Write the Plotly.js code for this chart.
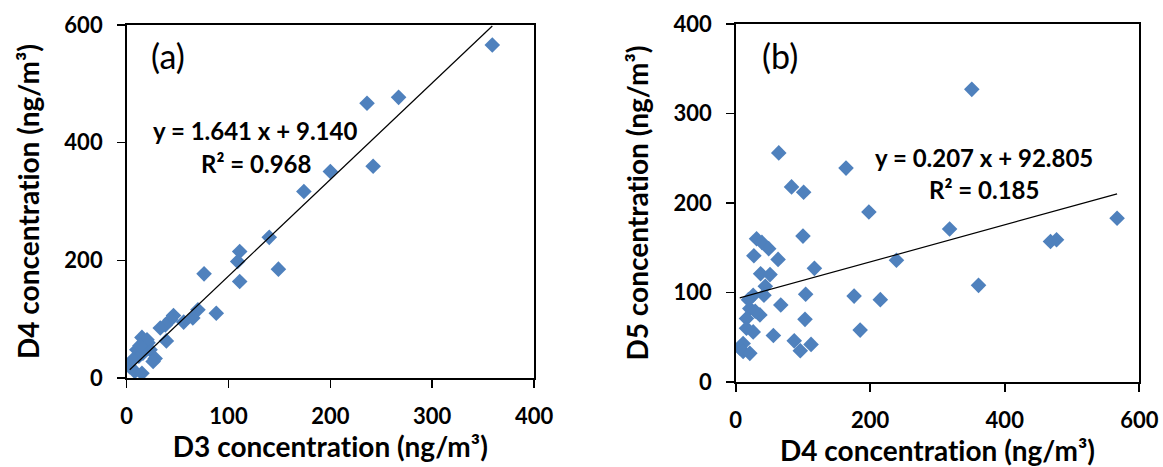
<!DOCTYPE html>
<html>
<head>
<meta charset="utf-8">
<script src="https://cdn.plot.ly/plotly-3.0.1.min.js"></script>
<style>html,body{margin:0;padding:0;background:#fff;}#chart{width:1163px;height:467px;}
#chart text{font-variant-ligatures:none;font-feature-settings:"liga" 0;}</style>
</head>
<body>
<div id="chart"></div>
<script>
// Panel (a): D3 vs D4 concentration (ng/m³)
const d3A = [359, 267, 236, 242, 200, 174, 140, 111, 109, 149, 76, 111, 88, 70, 65, 56, 46, 43, 38, 33, 39, 15, 21, 23, 28, 26, 10, 12, 3, 8, 15, 6, 20, 16, 13];
const d4A = [566, 477, 467, 360, 351, 317, 239, 215, 198, 185, 177, 164, 110, 116, 102, 95, 106, 99, 90, 85, 63, 69, 60, 48, 33, 28, 48, 37, 19, 11, 8, 31, 65, 42, 55];
// Panel (b): D4 vs D5 concentration (ng/m³)
const d4B = [567, 477, 468, 351, 361, 318, 239, 215, 198, 176, 185, 164, 64, 83, 101, 100, 117, 104, 103, 112, 96, 87, 67, 63, 56, 31, 39, 49, 27, 37, 51, 44, 42, 26, 36, 21, 16, 26, 16, 11, 6, 11, 21, 19, 29];
const d5B = [183, 159, 157, 327, 108, 171, 136, 92, 190, 96, 58, 239, 256, 218, 212, 163, 127, 98, 70, 42, 35, 46, 86, 137, 52, 160, 156, 149, 141, 121, 120, 107, 97, 97, 75, 82, 71, 56, 60, 43, 38, 34, 32, 92, 79];
// Linear fits as reported in the figure
const fitA = {slope: 1.641, intercept: 9.140, r2: 0.968};
const fitB = {slope: 0.207, intercept: 92.805, r2: 0.185};
const xTicksA = [0, 100, 200, 300, 400], yTicksA = [0, 200, 400, 600];
const xTicksB = [0, 200, 400, 600], yTicksB = [0, 100, 200, 300, 400];

function fitLine(xs, fit) {
  const lo = Math.min(...xs), hi = Math.max(...xs);
  return {x: [lo, hi], y: [fit.slope * lo + fit.intercept, fit.slope * hi + fit.intercept]};
}
const la = fitLine(d3A, fitA), lb = fitLine(d4B, fitB);

const FONT = 'Lato, "Open Sans", sans-serif';
const blue = '#4F81BD';
const mk = {symbol: 'diamond', size: 12, color: blue, line: {width: 0}};

const traces = [
  {x: d3A, y: d4A, type: 'scatter', mode: 'markers', marker: mk, xaxis: 'x', yaxis: 'y', showlegend: false},
  {x: la.x, y: la.y, type: 'scatter', mode: 'lines', line: {color: '#000', width: 1.2}, xaxis: 'x', yaxis: 'y', showlegend: false},
  {x: d4B, y: d5B, type: 'scatter', mode: 'markers', marker: mk, xaxis: 'x2', yaxis: 'y2', showlegend: false},
  {x: lb.x, y: lb.y, type: 'scatter', mode: 'lines', line: {color: '#000', width: 1.2}, xaxis: 'x2', yaxis: 'y2', showlegend: false}
];

function ax(extra) {
  return Object.assign({
    showgrid: false, zeroline: false, showline: true, mirror: true,
    linecolor: '#000', linewidth: 1.6, ticks: 'outside', ticklen: 8, tickwidth: 1.6, tickcolor: '#000',
    ticklabelstandoff: 10,
    tickfont: {family: FONT, size: 22, color: '#000', weight: 'bold'},
    fixedrange: true, automargin: false
  }, extra);
}
const titleFont = {family: FONT, size: 28, color: '#000', weight: 'bold'};
const eqFont = {family: FONT, size: 24, color: '#000', weight: 'bold'};
const lblFont = {family: FONT, size: 34, color: '#000'};
function note(text, px, py, font) {
  return {text: text, xref: 'paper', yref: 'paper', x: px / 1163, y: 1 - py / 467,
    xanchor: 'center', yanchor: 'middle', showarrow: false, font: font};
}

const layout = {
  width: 1163, height: 467,
  margin: {l: 0, r: 0, t: 0, b: 0},
  paper_bgcolor: '#fff', plot_bgcolor: '#fff',
  xaxis: ax({domain: [0.1089, 0.4592], range: [0, 400], tickvals: xTicksA, anchor: 'y',
    title: {text: 'D3 concentration (ng/m³)', font: titleFont, standoff: 8}}),
  yaxis: ax({domain: [0.1906, 0.9465], range: [0, 600], tickvals: yTicksA, anchor: 'x',
    title: {text: 'D4 concentration (ng/m³)', font: titleFont, standoff: 16}}),
  xaxis2: ax({domain: [0.6326, 0.9796], range: [0, 600], tickvals: xTicksB, anchor: 'y2',
    title: {text: 'D4 concentration (ng/m³)', font: titleFont, standoff: 8}}),
  yaxis2: ax({domain: [0.182, 0.9486], range: [0, 400], tickvals: yTicksB, anchor: 'x2',
    title: {text: 'D5 concentration (ng/m³)', font: titleFont, standoff: 16}}),
  annotations: [
    note('(a)', 168, 55, lblFont),
    note('(b)', 780, 55, lblFont),
    note('y = ' + fitA.slope.toFixed(3) + ' x + ' + fitA.intercept.toFixed(3), 255, 130, eqFont),
    note('R² = ' + fitA.r2.toFixed(3), 256, 163, eqFont),
    note('y = ' + fitB.slope.toFixed(3) + ' x + ' + fitB.intercept.toFixed(3), 984, 157, eqFont),
    note('R² = ' + fitB.r2.toFixed(3), 984, 190, eqFont)
  ]
};

Plotly.newPlot('chart', traces, layout, {displayModeBar: false, staticPlot: true});
</script>
</body>
</html>
